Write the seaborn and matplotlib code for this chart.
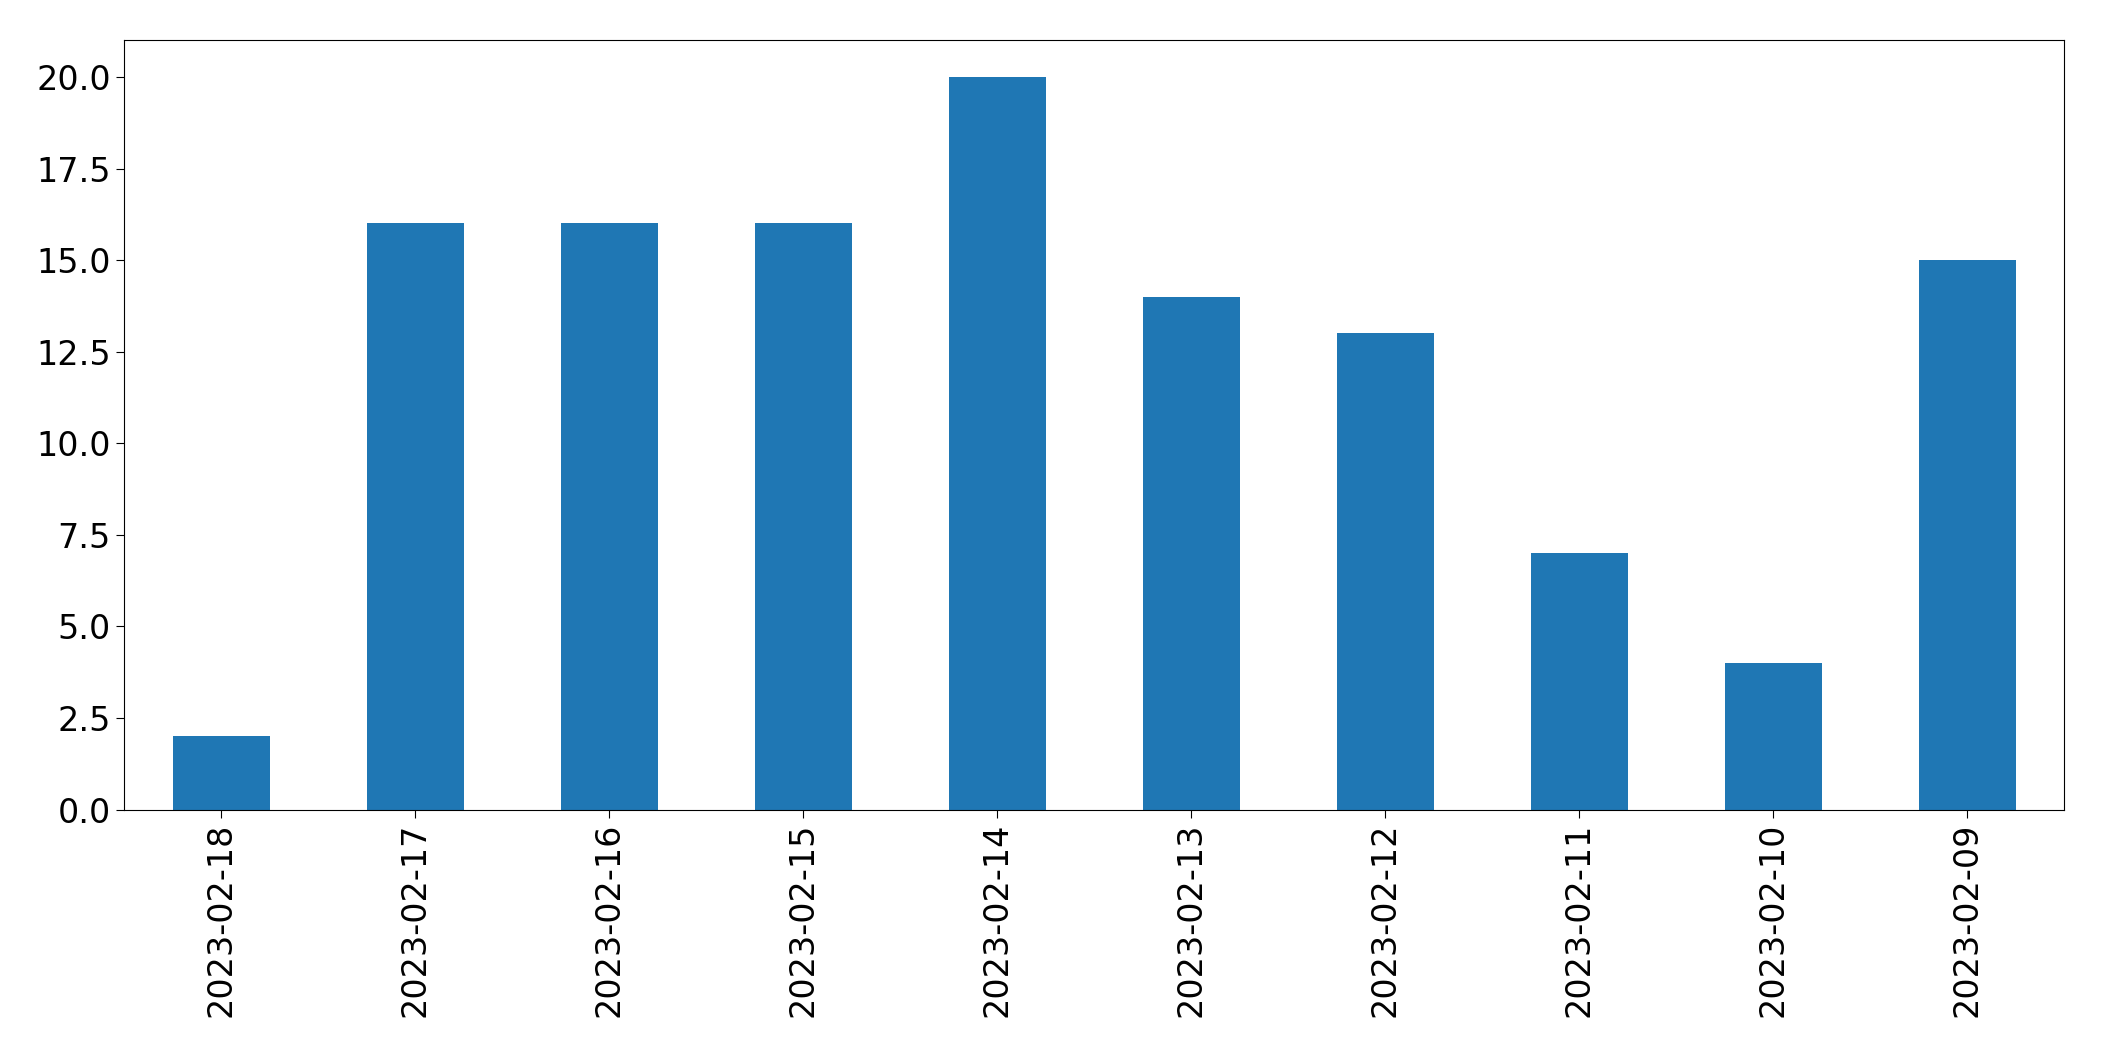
import matplotlib
matplotlib.use("Agg")
import matplotlib.pyplot as plt
import seaborn as sns
import pandas as pd

dates = ["2023-02-18","2023-02-17","2023-02-16","2023-02-15","2023-02-14",
         "2023-02-13","2023-02-12","2023-02-11","2023-02-10","2023-02-09"]
counts = [2,16,16,16,20,14,13,7,4,15]

df = pd.DataFrame({"date": dates, "count": counts})
fig = plt.figure(figsize=(21.04, 10.61), dpi=100)
ax = fig.add_axes([0.059, 0.237, 0.922, 0.725])
sns.barplot(data=df, x="date", y="count", color="#1f77b4", saturation=1, width=0.5, ax=ax)
ax.set_xlim(-0.5, len(dates)-0.5)
ax.set_ylim(0, 21)
ax.set_xlabel("")
ax.set_ylabel("")
ax.tick_params(axis="both", labelsize=24, length=6)
plt.setp(ax.get_xticklabels(), rotation=90)
fig.savefig("out.png", dpi=100)
